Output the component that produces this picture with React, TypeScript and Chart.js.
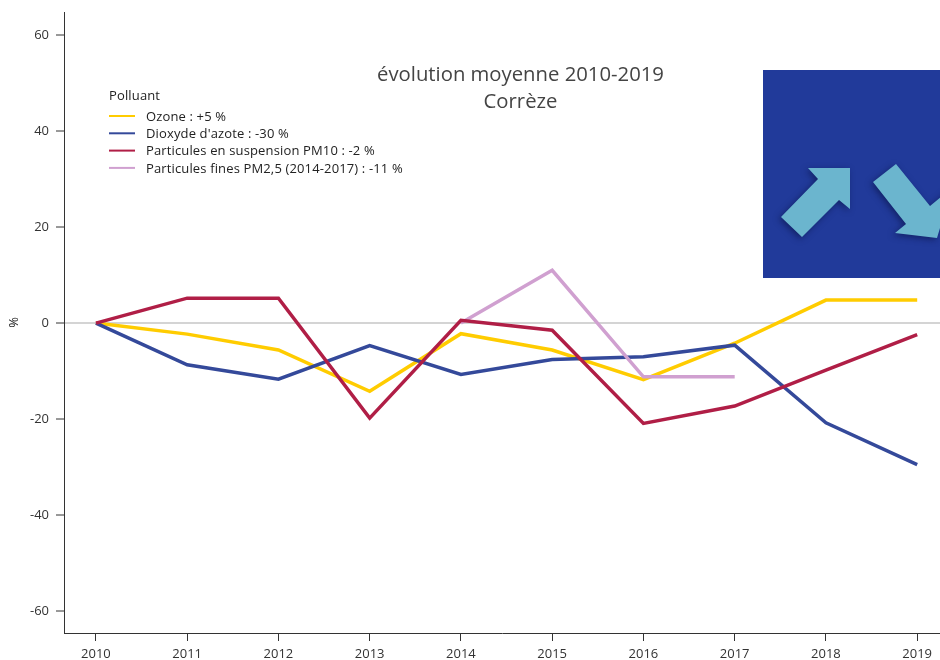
import React, { useEffect, useRef } from "react";
import { Chart, registerables } from "chart.js";

Chart.register(...registerables);

const years = [2010, 2011, 2012, 2013, 2014, 2015, 2016, 2017, 2018, 2019];
const ozone = [0, -2.3, -5.6, -14.2, -2.2, -5.6, -11.8, -4.2, 4.8, 4.8];
const no2 = [0, -8.7, -11.7, -4.7, -10.7, -7.6, -7.0, -4.6, -20.8, -29.5];
const pm10 = [0, 5.2, 5.2, -19.8, 0.6, -1.5, -20.9, -17.3, -9.8, -2.4];
const pm25 = [null, null, null, null, 0, 11, -11.2, -11.2, null, null];
const yTicks = [-60, -40, -20, 0, 20, 40, 60];
const seriesLabels = [
  "Ozone : +5 %",
  "Dioxyde d'azote : -30 %",
  "Particules en suspension PM10 : -2 %",
  "Particules fines PM2,5 (2014-2017) : -11 %",
];
const seriesColors = ["#FFCC00", "#34499A", "#B01E46", "#D0A0D0"];
const titleLines = ["évolution moyenne 2010-2019", "Corrèze"];
const legendTitle = "Polluant";
const yTitle = "%";

const FONT = '"Open Sans", sans-serif';
const INK = "#333333";

function series(values: (number | null)[]) {
  return years.map((x, i) => ({ x, y: values[i] }));
}

const decorPlugin = {
  id: "decor",
  afterDatasetsDraw(chart: any) {
    const ctx = chart.ctx as CanvasRenderingContext2D;
    ctx.save();
    // pictogram panel
    ctx.fillStyle = "#213A9A";
    ctx.fillRect(763, 70, 177, 208);
    ctx.beginPath();
    ctx.rect(763, 70, 177, 208);
    ctx.clip();
    ctx.shadowColor = "rgba(10,20,70,0.6)";
    ctx.shadowBlur = 6;
    ctx.shadowOffsetX = -2;
    ctx.shadowOffsetY = 2;
    ctx.fillStyle = "#6BB5CE";
    const arrows = [
      [[781, 217], [818, 179], [808, 168], [850, 168], [850, 209], [839, 200], [802, 237]],
      [[873, 182], [896, 164], [930, 206], [952, 188], [937, 238], [895, 233], [906, 224]],
    ];
    for (const a of arrows) {
      ctx.beginPath();
      a.forEach(([x, y], i) => (i ? ctx.lineTo(x, y) : ctx.moveTo(x, y)));
      ctx.closePath();
      ctx.fill();
    }
    ctx.restore();

    // title
    ctx.save();
    ctx.fillStyle = "#444444";
    ctx.font = `20.3px ${FONT}`;
    ctx.textAlign = "center";
    ctx.textBaseline = "middle";
    titleLines.forEach((t, i) => ctx.fillText(t, 520.5, 75 + i * 27.5));
    ctx.restore();

    // legend
    ctx.save();
    ctx.textBaseline = "middle";
    ctx.textAlign = "left";
    ctx.fillStyle = "#222222";
    ctx.font = `13px ${FONT}`;
    (ctx as any).letterSpacing = "0.14px";
    ctx.fillText(legendTitle, 109, 96);
    chart.data.datasets.forEach((d: any, i: number) => {
      const y = 116 + i * 17.3;
      ctx.strokeStyle = d.borderColor;
      ctx.lineWidth = 2;
      ctx.beginPath();
      ctx.moveTo(109, y);
      ctx.lineTo(135, y);
      ctx.stroke();
      ctx.fillStyle = "#222222";
      ctx.fillText(d.label, 146, y + 1);
    });
    ctx.restore();
  },
};

export default function App() {
  const ref = useRef<HTMLCanvasElement | null>(null);

  useEffect(() => {
    if (!ref.current) return;
    const chart = new Chart(ref.current, {
      type: "line",
      data: {
        datasets: [ozone, no2, pm10, pm25].map((values, i) => ({
          label: seriesLabels[i],
          data: series(values),
          borderColor: seriesColors[i],
          backgroundColor: seriesColors[i],
          borderWidth: 3.5,
          pointRadius: 0,
          tension: 0,
          spanGaps: false,
          order: [4, 3, 1, 2][i],
          borderJoinStyle: "miter",
        })),
      },
      options: {
        animation: false,
        responsive: false,
        layout: { padding: { top: 12, left: 0, right: 0, bottom: 0 } },
        plugins: { legend: { display: false }, title: { display: false }, tooltip: { enabled: false } },
        scales: {
          x: {
            type: "linear",
            min: 2009.65,
            max: 2019.25,
            afterBuildTicks: (axis: any) => {
              axis.ticks = years.map((value) => ({ value }));
            },
            afterFit: (axis: any) => {
              axis.height = 27;
              axis.paddingLeft = 0;
              axis.paddingRight = 0;
            },
            border: { display: true, color: INK, width: 1 },
            grid: { drawOnChartArea: false, drawTicks: true, tickLength: 8, tickColor: INK, tickWidth: 1 },
            ticks: {
              autoSkip: false,
              maxRotation: 0,
              padding: 5,
              color: INK,
              font: { family: FONT, size: 13 },
              callback: (v: any) => String(v),
            },
          },
          y: {
            type: "linear",
            min: -64.6,
            max: 64.85,
            afterBuildTicks: (axis: any) => {
              axis.ticks = yTicks.map((value) => ({ value }));
            },
            afterFit: (axis: any) => {
              axis.width = 64;
              axis.paddingTop = 0;
              axis.paddingBottom = 0;
            },
            border: { display: true, color: INK, width: 1 },
            grid: {
              color: (c: any) => (c.tick && c.tick.value === 0 ? "#D4D4D4" : "rgba(0,0,0,0)"),
              lineWidth: 2,
              tickColor: INK,
              tickWidth: 1,
              tickLength: 8,
              drawOnChartArea: true,
            },
            ticks: { padding: 7, color: INK, font: { family: FONT, size: 13 } },
            title: { display: true, text: yTitle, color: "#222222", padding: 6, font: { family: FONT, size: 13 } },
          },
        },
      },
      plugins: [decorPlugin],
    });
    return () => chart.destroy();
  }, []);

  return (
    <div style={{ position: "absolute", left: 0, top: 0, width: 940, height: 660, background: "#fff" }}>
      <canvas ref={ref} width={940} height={660} style={{ display: "block" }} />
    </div>
  );
}
